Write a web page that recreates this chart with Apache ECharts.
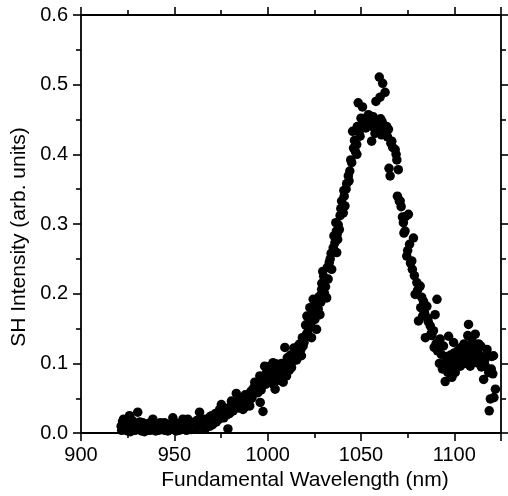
<!DOCTYPE html>
<html>
<head>
<meta charset="utf-8">
<script src="https://cdn.jsdelivr.net/npm/echarts@6/dist/echarts.min.js"></script>
<style>
  html, body { margin: 0; padding: 0; background: #fff; }
  #chart { width: 508px; height: 496px; }
</style>
</head>
<body>
<div id="chart"></div>
<script>
  // SH 强度 vs 基频波长，读自原图
  var wavelength = [
    921.5, 922.3, 923, 924, 925, 926, 927, 928, 929, 930.4, 931, 932, 933, 934, 935, 936, 937, 938.5, 939, 940,
    941, 942, 943, 944.7, 945, 946, 947, 948, 949.2, 950, 951, 952, 953, 954.6, 955, 956, 957.2, 958, 959, 960,
    961, 962, 963.5, 964, 965, 966, 967, 968.9, 969, 970, 971, 972, 973, 974.3, 975.2, 976, 977, 978.7, 979, 980,
    980.6, 981, 982, 983.2, 984, 985, 986.8, 987, 988, 988.6, 989, 990.4, 991, 992.2, 993.1, 993.5, 994.8, 995.8, 996, 997,
    997.5, 998.4, 999, 1000.2, 1001.1, 1001.5, 1002.9, 1003, 1004, 1004.7, 1005, 1006.5, 1007, 1008.3, 1009.2, 1010.1, 1011, 1011.9, 1012.8, 1013.5,
    1014.6, 1015.5, 1016, 1017.2, 1018.1, 1018.6, 1019.5, 1020.8, 1021, 1022, 1022.6, 1023.5, 1024.4, 1025.3, 1026.2, 1027.1, 1028, 1028.9, 1029.5, 1030.5,
    1031.6, 1032.4, 1033, 1034.3, 1035.1, 1036, 1036.5, 1037, 1037.2, 1037.8, 1038.4, 1037.5, 1039.6, 1040.5, 1040.8, 1041.4, 1042.3, 1043.2, 1044, 1045,
    1045.5, 1046, 1047.7, 1047.8, 1048.5, 1049.5, 1050.4, 1050.8, 1051.2, 1052.2, 1053, 1054, 1054.8, 1055.7, 1056.6, 1057, 1058, 1058.4, 1059.8, 1060.2,
    1060.5, 1061, 1061.6, 1062, 1062.9, 1063.5, 1064.7, 1065, 1065.6, 1066.5, 1067, 1068.3, 1069.2, 1069.5, 1070, 1070.5, 1071, 1072.7, 1073, 1073.6,
    1074, 1074.5, 1075.4, 1076, 1077.2, 1077.5, 1078.1, 1079, 1079.9, 1080.8, 1081.7, 1082.5, 1083.5, 1084, 1084.5, 1085.3, 1086, 1087.1, 1088, 1088.8,
    1089.2, 1089.7, 1090.7, 1091.5, 1092.4, 1093, 1094.2, 1095.1, 1096, 1096.5, 1096.9, 1097.8, 1098.7, 1099.6, 1100.5, 1101.4, 1102, 1103.2, 1104, 1104.9,
    1105.5, 1106.8, 1107.6, 1108.5, 1109.4, 1109.8, 1110.5, 1111.2, 1112.1, 1113, 1113.9, 1114.5, 1115.7, 1116.6, 1117.5, 1118.4, 1118.7, 1119.3, 1120, 1121,
    1121.2, 1122,
    921.8, 922.8, 923.5, 924.6, 925.5, 926.5, 927.5, 928.5, 929.5, 930, 931.5, 932.5, 933.5, 934.5, 935.5, 936.5, 937.5, 938, 939.5, 940.5,
    941.5, 942.5, 943.5, 944, 945.5, 946.5, 947.5, 948.5, 949.5, 950.5, 951.5, 952.5, 953.5, 954, 955.5, 956.5, 957.5, 958.5, 959.5, 960.5,
    961.5, 962.5, 963, 964.5, 965.5, 966.5, 967.5, 968, 969.5, 970.5, 971.5, 972.5, 973.5, 974, 975, 976.5, 977.5, 978, 979.5, 980.2,
    981.5, 982.5, 983.5, 984.5, 985.5, 986, 987.5, 988.2, 989.5, 990, 991.5, 992, 992.8, 994, 995, 996.5, 997.8, 998.8, 999.5, 1000.5,
    1002, 1003.5, 1005.5, 1006, 1007.5, 1008, 1009, 1010.5, 1011.5, 1012.2, 1013, 1014, 1015, 1016.5, 1017.8, 1019, 1020, 1020.3, 1021.5, 1022.2,
    1023, 1024, 1025, 1025.8, 1026.8, 1027.6, 1028.5, 1029, 1030, 1031, 1032, 1033.5, 1034, 1035.5, 1036.8, 1038.8, 1039.2, 1041, 1042, 1043.6,
    1044.5, 1046.5, 1047, 1048, 1049, 1050, 1052.6, 1053.5, 1055.2, 1056, 1057.5, 1059, 1061.3, 1062.5, 1063.8, 1064.2, 1066, 1068.8, 1071.5, 1072.2,
    1075, 1076.5, 1078.6, 1080.3, 1082, 1083, 1085.8, 1087.6, 1090.2, 1091, 1092, 1093.6, 1094.8, 1095.6, 1097.2, 1098, 1099.1, 1100, 1100.9, 1101.8,
    1102.6, 1103.6, 1104.4, 1105.2, 1106.2, 1107.2, 1108, 1108.9, 1110.2, 1111.6, 1112.6, 1113.4, 1114.2, 1115, 1116.2, 1117, 1119.8, 1120.6
  ];
  var intensity = [
    0.010, 0.017, 0.005, 0.012, 0.003, 0.025, 0.008, 0.014, 0.004, 0.030, 0.010, 0.006, 0.015, 0.002, 0.011, 0.007, 0.004, 0.020, 0.009, 0.003,
    0.012, 0.006, 0.010, 0.015, 0.004, 0.008, 0.012, 0.005, 0.022, 0.009, 0.003, 0.013, 0.007, 0.020, 0.006, 0.010, 0.020, 0.012, 0.005, 0.015,
    0.009, 0.018, 0.030, 0.012, 0.008, 0.020, 0.014, 0.023, 0.010, 0.025, 0.018, 0.028, 0.022, 0.034, 0.041, 0.030, 0.025, 0.006, 0.036, 0.030,
    0.046, 0.040, 0.035, 0.057, 0.045, 0.042, 0.034, 0.050, 0.055, 0.049, 0.045, 0.039, 0.060, 0.063, 0.073, 0.058, 0.058, 0.082, 0.044, 0.068,
    0.031, 0.096, 0.078, 0.075, 0.096, 0.085, 0.101, 0.070, 0.063, 0.099, 0.082, 0.092, 0.085, 0.073, 0.123, 0.082, 0.098, 0.104, 0.094, 0.110,
    0.116, 0.105, 0.120, 0.128, 0.111, 0.137, 0.130, 0.142, 0.168, 0.150, 0.180, 0.137, 0.192, 0.163, 0.149, 0.178, 0.170, 0.206, 0.232, 0.200,
    0.194, 0.221, 0.245, 0.235, 0.266, 0.273, 0.302, 0.259, 0.285, 0.299, 0.292, 0.278, 0.333, 0.316, 0.348, 0.326, 0.358, 0.369, 0.376, 0.388,
    0.433, 0.409, 0.414, 0.400, 0.474, 0.426, 0.438, 0.468, 0.445, 0.452, 0.440, 0.457, 0.443, 0.419, 0.454, 0.445, 0.476, 0.438, 0.511, 0.482,
    0.451, 0.428, 0.502, 0.440, 0.489, 0.430, 0.436, 0.380, 0.369, 0.419, 0.410, 0.407, 0.392, 0.340, 0.378, 0.333, 0.333, 0.302, 0.287, 0.290,
    0.311, 0.254, 0.314, 0.271, 0.247, 0.235, 0.280, 0.199, 0.216, 0.161, 0.211, 0.195, 0.189, 0.173, 0.137, 0.182, 0.160, 0.154, 0.140, 0.147,
    0.123, 0.170, 0.192, 0.130, 0.135, 0.113, 0.125, 0.074, 0.106, 0.087, 0.139, 0.094, 0.080, 0.130, 0.087, 0.108, 0.100, 0.096, 0.110, 0.113,
    0.100, 0.123, 0.156, 0.096, 0.135, 0.106, 0.120, 0.142, 0.101, 0.128, 0.111, 0.095, 0.077, 0.096, 0.120, 0.087, 0.032, 0.049, 0.110, 0.111,
    0.051, 0.063,
    0.004, 0.020, 0.009, 0.015, 0.010, 0.002, 0.018, 0.008, 0.012, 0.006, 0.016, 0.003, 0.009, 0.013, 0.004, 0.014, 0.010, 0.005, 0.013, 0.008,
    0.004, 0.015, 0.005, 0.009, 0.012, 0.003, 0.008, 0.014, 0.006, 0.015, 0.009, 0.004, 0.014, 0.008, 0.012, 0.004, 0.009, 0.016, 0.010, 0.006,
    0.014, 0.008, 0.016, 0.020, 0.013, 0.006, 0.018, 0.010, 0.016, 0.012, 0.022, 0.016, 0.026, 0.020, 0.028, 0.022, 0.032, 0.026, 0.028, 0.038,
    0.032, 0.044, 0.040, 0.036, 0.050, 0.040, 0.044, 0.038, 0.052, 0.046, 0.050, 0.055, 0.066, 0.064, 0.070, 0.062, 0.080, 0.070, 0.088, 0.082,
    0.090, 0.078, 0.095, 0.076, 0.100, 0.090, 0.098, 0.108, 0.090, 0.112, 0.102, 0.122, 0.112, 0.126, 0.120, 0.125, 0.138, 0.155, 0.145, 0.160,
    0.155, 0.168, 0.176, 0.185, 0.190, 0.196, 0.188, 0.215, 0.225, 0.210, 0.238, 0.250, 0.258, 0.283, 0.290, 0.312, 0.322, 0.340, 0.350, 0.362,
    0.392, 0.420, 0.404, 0.440, 0.432, 0.452, 0.438, 0.448, 0.450, 0.440, 0.430, 0.442, 0.447, 0.432, 0.440, 0.425, 0.416, 0.400, 0.325, 0.310,
    0.262, 0.244, 0.226, 0.205, 0.180, 0.168, 0.165, 0.143, 0.128, 0.118, 0.100, 0.092, 0.098, 0.110, 0.100, 0.112, 0.104, 0.115, 0.098, 0.118,
    0.105, 0.123, 0.103, 0.128, 0.108, 0.140, 0.116, 0.125, 0.102, 0.115, 0.118, 0.100, 0.125, 0.108, 0.104, 0.110, 0.092, 0.085
  ];

  var xTicks = { min: 900, max: 1125, interval: 50 };
  var yTicks = { min: 0, max: 0.6, interval: 0.1 };

  var FONT = 'Liberation Sans, Arial, sans-serif';

  function points() {
    var out = [];
    for (var i = 0; i < wavelength.length && i < intensity.length; i++) {
      out.push([wavelength[i], intensity[i]]);
    }
    return out;
  }

  function axisBase(extra) {
    var ax = {
      type: 'value',
      axisLine: { show: true, onZero: false, lineStyle: { color: '#000', width: 1.8 } },
      axisTick: { show: true, inside: false, length: 8, lineStyle: { color: '#000', width: 1.6 } },
      minorTick: { show: true, splitNumber: 2, length: 5, lineStyle: { color: '#000', width: 1.6 } },
      splitLine: { show: false },
      axisLabel: { show: false }
    };
    for (var k in extra) ax[k] = extra[k];
    return ax;
  }

  var chart = echarts.init(document.getElementById('chart'), null, { renderer: 'canvas' });

  chart.setOption({
    backgroundColor: '#fff',
    animation: false,
    grid: { left: 81, right: 7, top: 15, bottom: 62, containLabel: false },
    xAxis: [
      axisBase({
        min: xTicks.min, max: xTicks.max, interval: xTicks.interval,
        position: 'bottom',
        name: 'Fundamental Wavelength (nm)',
        nameLocation: 'middle',
        nameGap: 30,
        nameTextStyle: { color: '#000', fontSize: 21, fontFamily: FONT, padding: [0, 0, 0, 28] },
        axisLabel: {
          show: true, color: '#000', fontSize: 20, fontFamily: FONT, margin: 12,
          showMaxLabel: false,
          formatter: function (v) { return String(v); }
        }
      }),
      axisBase({
        min: xTicks.min, max: xTicks.max, interval: xTicks.interval,
        position: 'top'
      })
    ],
    yAxis: [
      axisBase({
        min: yTicks.min, max: yTicks.max, interval: yTicks.interval,
        position: 'left',
        name: 'SH Intensity (arb. units)',
        nameLocation: 'middle',
        nameGap: 51,
        nameTextStyle: { color: '#000', fontSize: 21, fontFamily: FONT, padding: [0, 26, 0, 0] },
        axisLabel: {
          show: true, color: '#000', fontSize: 20, fontFamily: FONT, margin: 13,
          formatter: function (v) { return v.toFixed(1); }
        }
      }),
      axisBase({
        min: yTicks.min, max: yTicks.max, interval: yTicks.interval,
        position: 'right'
      })
    ],
    series: [{
      type: 'scatter',
      xAxisIndex: 0,
      yAxisIndex: 0,
      symbol: 'circle',
      symbolSize: 9.5,
      itemStyle: { color: '#000', opacity: 1 },
      data: points()
    }]
  });
</script>
</body>
</html>
